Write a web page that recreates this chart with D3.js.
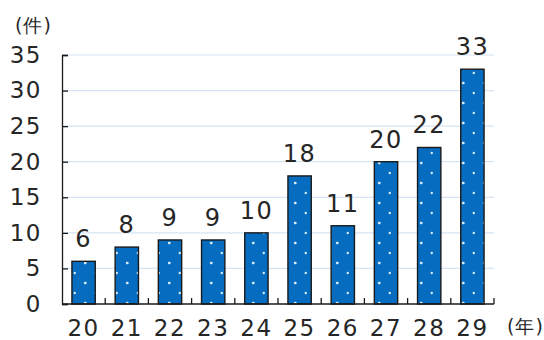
<!DOCTYPE html>
<html>
<head>
<meta charset="utf-8">
<script src="https://cdn.jsdelivr.net/npm/d3@7"></script>
<style>
  html, body { margin: 0; padding: 0; background: #fff; }
  svg { display: block; }
  text { font-family: "DejaVu Sans", sans-serif; fill: #262626; }
</style>
</head>
<body>
<svg id="chart" width="544" height="340"></svg>
<script>
// Cases per year (Heisei 20–29)
const years = ["20", "21", "22", "23", "24", "25", "26", "27", "28", "29"];
const counts = [6, 8, 9, 9, 10, 18, 11, 20, 22, 33];
const yTicks = [0, 5, 10, 15, 20, 25, 30, 35];

const svg = d3.select("#chart");
const plotLeft = 62, plotRight = 494, plotTop = 55, plotBottom = 304;

const x = d3.scaleBand().domain(years).range([plotLeft, plotRight]).paddingInner(0.46).paddingOuter(0.23);
const xEdge = d3.scaleBand().domain(years).range([plotLeft, plotRight]);
const y = d3.scaleLinear().domain([0, 35]).range([plotBottom, plotTop]);

// dotted fill for the bars
const defs = svg.append("defs");
const pat = defs.append("pattern")
  .attr("id", "dots")
  .attr("patternUnits", "userSpaceOnUse")
  .attr("width", 21).attr("height", 20)
  .attr("x", 1).attr("y", 3);
pat.append("rect").attr("width", 21).attr("height", 20).attr("fill", "#066cc0");
[[0.5, 0], [21, 0], [0.5, 20], [21, 20], [10.75, 10]].forEach(([cx, cy]) => {
  pat.append("circle").attr("cx", cx).attr("cy", cy).attr("r", 1.2).attr("fill", "#d6eaf8");
});

// horizontal gridlines
svg.append("g")
  .selectAll("line")
  .data(yTicks.filter(d => d > 0))
  .join("line")
  .attr("x1", plotLeft).attr("x2", plotRight)
  .attr("y1", d => y(d)).attr("y2", d => y(d))
  .attr("stroke", "#d5e4f3").attr("stroke-width", 1.2);

// bars
svg.append("g")
  .selectAll("rect")
  .data(years)
  .join("rect")
  .attr("x", d => x(d))
  .attr("width", x.bandwidth())
  .attr("y", (d, i) => y(counts[i]))
  .attr("height", (d, i) => y(0) - y(counts[i]))
  .attr("fill", "url(#dots)")
  .attr("stroke", "#1a1a1a")
  .attr("stroke-width", 1.4);

// value labels
svg.append("g")
  .selectAll("text")
  .data(years)
  .join("text")
  .attr("x", d => x(d) + x.bandwidth() / 2)
  .attr("y", (d, i) => y(counts[i]) - 14)
  .attr("text-anchor", "middle")
  .attr("font-size", 24)
  .attr("letter-spacing", 1.5)
  .text((d, i) => counts[i]);

// y axis
const yAxis = d3.axisLeft(y).tickValues(yTicks).tickSize(-6).tickPadding(20).tickFormat(d3.format("d"));
const gy = svg.append("g").attr("transform", `translate(${plotLeft},0)`).call(yAxis);
gy.select(".domain").attr("stroke", "#1a1a1a").attr("stroke-width", 1.3);
gy.selectAll(".tick line").attr("stroke", "#1a1a1a").attr("stroke-width", 1.3);
gy.selectAll(".tick text")
  .attr("font-family", "DejaVu Sans, sans-serif")
  .attr("font-size", 23)
  .attr("letter-spacing", 1.5)
  .attr("fill", "#262626");

// x axis with inward ticks on the category boundaries
const gx = svg.append("g").attr("transform", `translate(0,${plotBottom})`);
gx.append("line").attr("x1", plotLeft).attr("x2", plotRight).attr("stroke", "#1a1a1a").attr("stroke-width", 1.3);
gx.selectAll("line.tick")
  .data(years.slice(1).map(d => xEdge(d)).concat([plotRight]))
  .join("line")
  .attr("class", "tick")
  .attr("x1", d => d).attr("x2", d => d)
  .attr("y1", 0).attr("y2", -6)
  .attr("stroke", "#1a1a1a").attr("stroke-width", 1.3);
gx.selectAll("text")
  .data(years)
  .join("text")
  .attr("x", d => x(d) + x.bandwidth() / 2)
  .attr("y", 32)
  .attr("text-anchor", "middle")
  .attr("font-size", 23)
  .attr("letter-spacing", 1.5)
  .text(d => d);

// unit labels
svg.append("text")
  .attr("x", 15).attr("y", 32)
  .attr("font-family", "Noto Sans CJK JP, sans-serif")
  .attr("font-size", 19)
  .attr("letter-spacing", 1)
  .text("(件)");
svg.append("text")
  .attr("x", 507).attr("y", 333)
  .attr("font-family", "Noto Sans CJK JP, sans-serif")
  .attr("font-size", 19)
  .attr("letter-spacing", 1)
  .text("(年)");
</script>
</body>
</html>
